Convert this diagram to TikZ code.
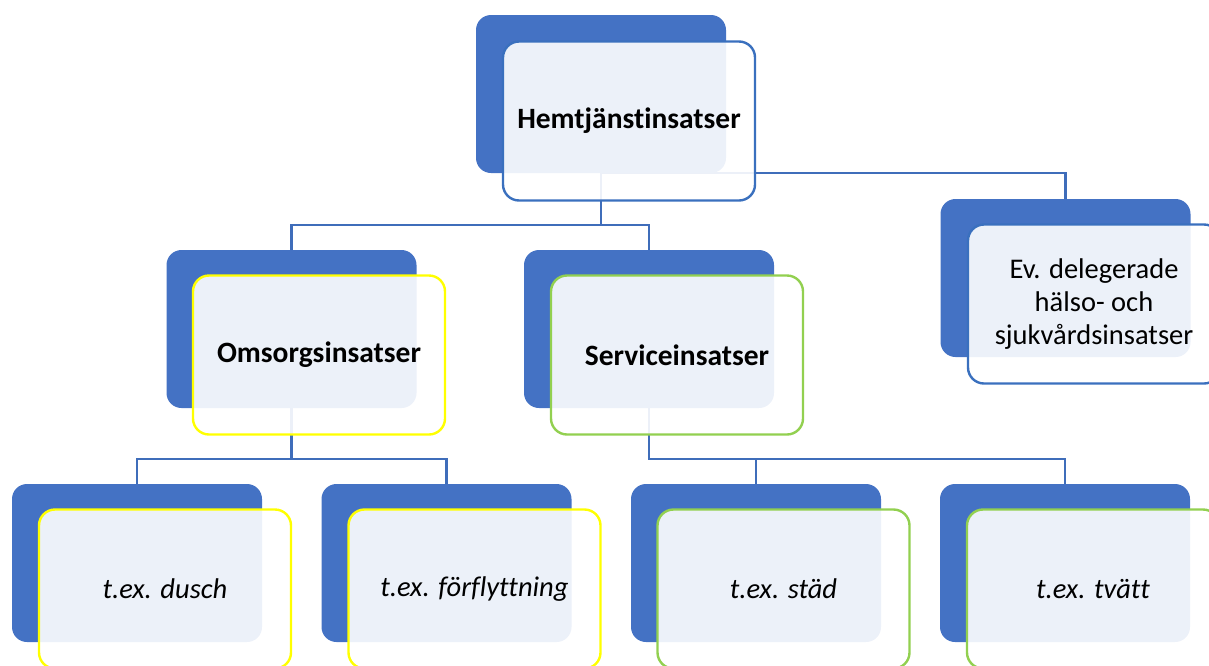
\documentclass[tikz,border=0pt]{standalone}
\usepackage{fontspec}
\setmainfont{Carlito}[Ligatures=NoCommon]
\usetikzlibrary{backgrounds}
\definecolor{backblue}{HTML}{4472C4}
\definecolor{lineblue}{HTML}{3F6DBA}
\definecolor{edgeblue}{HTML}{3A70BE}
\definecolor{edgeyellow}{HTML}{FFFF00}
\definecolor{edgegreen}{HTML}{92D050}
\tikzset{
  backbox/.style={rectangle, fill=backblue, draw=none, rounded corners=15pt,
    minimum width=250pt, minimum height=158pt, inner sep=0pt},
  frontbox/.style={rectangle, fill=white, fill opacity=0.9, text opacity=1,
    line width=2.4pt, rounded corners=16pt, minimum width=252pt,
    minimum height=159pt, inner sep=0pt, align=center,
    font=\fontsize{28.5}{33}\selectfont},
  boldtext/.style={font=\fontsize{29.5}{34}\selectfont\bfseries},
  ittext/.style={font=\fontsize{28.5}{33}\selectfont\itshape},
  conn/.style={draw=lineblue, line width=2.5pt},
}
\begin{document}
\begin{tikzpicture}[x=1pt,y=-1pt]
\useasboundingbox (0,0) rectangle (1209,665);
% back boxes
\node[backbox] (hB) at (601,94) {};
\node[backbox] (oB) at (291.5,329) {};
\node[backbox] (sB) at (649,329) {};
\node[backbox] (rB) at (1065.5,278) {};
\node[backbox] (dB) at (137,563) {};
\node[backbox] (fB) at (446.5,563) {};
\node[backbox] (tB) at (756,563) {};
\node[backbox] (vB) at (1065,563) {};
% front boxes
\node[frontbox, draw=edgeblue, boldtext] (h) at (629,121) {Hemtjänstinsatser};
\node[frontbox, draw=edgeyellow, boldtext] (o) at (319,355) {Omsorgsinsatser};
\node[frontbox, draw=edgegreen, boldtext] (s) at (677,355) {Serviceinsatser};
\node[frontbox, draw=edgeblue] (r) at (1094,304) {Ev. delegerade\\hälso- och\\sjukvårdsinsatser};
\node[frontbox, draw=edgeyellow, ittext] (d) at (165,589) {t.ex. dusch};
\node[frontbox, draw=edgeyellow, ittext] (f) at (474.5,589) {t.ex. förflyttning};
\node[frontbox, draw=edgegreen, ittext] (t) at (783.5,589) {t.ex. städ};
\node[frontbox, draw=edgegreen, ittext] (v) at (1093,589) {t.ex. tvätt};
% connectors
\begin{scope}[on background layer]
\draw[conn] (hB.south) -- ++(0,52) -| (oB.north);
\draw[conn] (hB.south) -- ++(0,52) -| (sB.north);
\draw[conn] (hB.south) -| (rB.north);
\draw[conn] (oB.south) -- ++(0,51) -| (dB.north);
\draw[conn] (oB.south) -- ++(0,51) -| (fB.north);
\draw[conn] (sB.south) -- ++(0,51) -| (tB.north);
\draw[conn] (sB.south) -- ++(0,51) -| (vB.north);
\end{scope}
\end{tikzpicture}
\end{document}
